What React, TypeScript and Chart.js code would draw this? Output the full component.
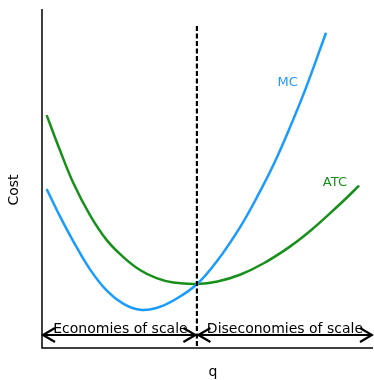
import React, { useEffect, useRef } from "react";
import { Chart, registerables } from "chart.js";

Chart.register(...registerables);

// Output quantity (x) and cost (y) (0..10 scales)
const mcQ = [0.14, 0.54, 0.95, 1.45, 1.95, 2.45, 2.96, 3.46, 3.97, 4.68, 5.3, 6.0, 6.5, 7.0, 7.5, 8.0, 8.58];
const mcCost = [4.69, 3.89, 3.14, 2.32, 1.7, 1.31, 1.13, 1.18, 1.4, 1.88, 2.58, 3.59, 4.46, 5.42, 6.53, 7.74, 9.3];
const atcQ = [0.14, 0.54, 0.95, 1.45, 1.95, 2.45, 2.96, 3.46, 3.97, 4.68, 5.3, 5.98, 6.7, 7.49, 8.1, 8.7, 9.15, 9.58];
const atcCost = [6.87, 5.84, 4.86, 3.92, 3.19, 2.69, 2.3, 2.06, 1.93, 1.89, 1.96, 2.16, 2.5, 2.99, 3.45, 3.97, 4.38, 4.79];
const minEfficientQ = 4.68;
const seriesNames = ["MC", "ATC"];
const regionLabels = ["Economies of scale", "Diseconomies of scale"];
const axisTitles = { x: "q", y: "Cost" };

const BLUE = "#1a9bff";
const GREEN = "#17901a";
const FONT = "'DejaVu Sans', sans-serif";

const overlay = {
  id: "overlay",
  afterDatasetsDraw(chart: any) {
    const { ctx, chartArea } = chart;
    const xs = chart.scales.x;
    const ys = chart.scales.y;
    const { left, right, top, bottom } = chartArea;
    ctx.save();
    // axes
    ctx.strokeStyle = "#000";
    ctx.lineWidth = 1.5;
    ctx.beginPath();
    ctx.moveTo(left, top);
    ctx.lineTo(left, bottom);
    ctx.lineTo(right, bottom);
    ctx.stroke();

    // dashed vertical line at minimum efficient scale
    const vx = xs.getPixelForValue(minEfficientQ);
    ctx.setLineDash([5, 2.5]);
    ctx.lineWidth = 2.2;
    ctx.beginPath();
    ctx.moveTo(vx, ys.getPixelForValue(9.5));
    ctx.lineTo(vx, bottom);
    ctx.stroke();
    ctx.setLineDash([]);

    // arrows
    const ay = bottom - 13;
    const drawArrow = (x1: number, x2: number) => {
      ctx.lineWidth = 2;
      ctx.beginPath();
      ctx.moveTo(x1, ay);
      ctx.lineTo(x2, ay);
      ctx.stroke();
      const head = (x: number, dir: number) => {
        ctx.lineWidth = 2.2;
        ctx.beginPath();
        ctx.moveTo(x + dir * 12, ay - 7);
        ctx.lineTo(x, ay);
        ctx.lineTo(x + dir * 12, ay + 7);
        ctx.stroke();
      };
      head(x1, 1);
      head(x2, -1);
    };
    drawArrow(left + 1, vx - 1.5);
    drawArrow(vx + 1.5, right - 1);

    ctx.fillStyle = "#000";
    ctx.font = `14px ${FONT}`;
    ctx.textAlign = "center";
    ctx.textBaseline = "alphabetic";
    ctx.fillText(regionLabels[0], (left + vx) / 2 + 1, ay - 2);
    ctx.fillText(regionLabels[1], (vx + right) / 2, ay - 2);

    // series labels
    ctx.textBaseline = "middle";
    ctx.font = `13px ${FONT}`;
    ctx.fillStyle = BLUE;
    ctx.fillText(seriesNames[0], xs.getPixelForValue(7.42), ys.getPixelForValue(7.84));
    ctx.fillStyle = GREEN;
    ctx.fillText(seriesNames[1], xs.getPixelForValue(8.85), ys.getPixelForValue(4.87));

    // axis titles
    ctx.fillStyle = "#000";
    ctx.font = `14px ${FONT}`;
    ctx.fillText(axisTitles.x, 213, 372);
    ctx.translate(14, 190);
    ctx.rotate(-Math.PI / 2);
    ctx.fillText(axisTitles.y, 0, 0);
    ctx.restore();
  },
};

export default function App() {
  const ref = useRef<HTMLCanvasElement>(null);
  useEffect(() => {
    if (!ref.current) return;
    const toPts = (q: number[], c: number[]) => q.map((v, i) => ({ x: v, y: c[i] }));
    const chart = new Chart(ref.current, {
      type: "line",
      data: {
        datasets: [
          {
            label: seriesNames[0],
            data: toPts(mcQ, mcCost),
            borderColor: BLUE,
            borderWidth: 2.5,
            pointRadius: 0,
            tension: 0.4,
          },
          {
            label: seriesNames[1],
            data: toPts(atcQ, atcCost),
            borderColor: GREEN,
            borderWidth: 2.5,
            pointRadius: 0,
            tension: 0.4,
          },
        ],
      },
      options: {
        responsive: false,
        animation: false,
        layout: { padding: { left: 42, top: 9, right: 1, bottom: 32 } },
        plugins: { legend: { display: false }, tooltip: { enabled: false } },
        scales: {
          x: { type: "linear", min: 0, max: 10, display: false },
          y: { type: "linear", min: 0, max: 10, display: false },
        },
      },
      plugins: [overlay],
    });
    return () => chart.destroy();
  }, []);
  return (
    <div style={{ position: "fixed", left: 0, top: 0, width: 374, height: 380, background: "#fff" }}>
      <canvas ref={ref} width={374} height={380} style={{ width: 374, height: 380 }} />
    </div>
  );
}
